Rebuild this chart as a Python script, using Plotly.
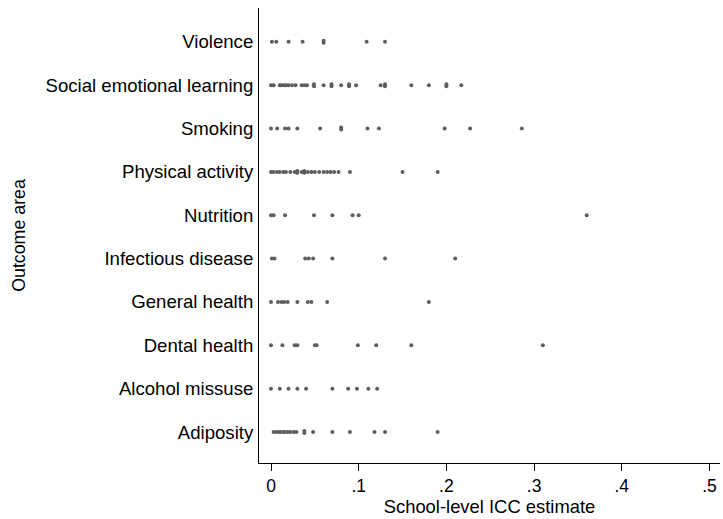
import plotly.graph_objects as go
from collections import Counter

# Outcome areas, listed bottom to top on the y axis
categories = [
    "Adiposity",
    "Alcohol missuse",
    "Dental health",
    "General health",
    "Infectious disease",
    "Nutrition",
    "Physical activity",
    "Smoking",
    "Social emotional learning",
    "Violence",
]

# School-level ICC estimates for each outcome area
adiposity = [0.003, 0.006, 0.009, 0.011, 0.014, 0.016, 0.019, 0.022, 0.026, 0.029,
             0.038, 0.038, 0.048, 0.070, 0.090, 0.118, 0.130, 0.190]
alcohol_missuse = [0.000, 0.010, 0.020, 0.030, 0.040, 0.070, 0.088, 0.098, 0.111, 0.121]
dental_health = [0.000, 0.013, 0.027, 0.030, 0.050, 0.052, 0.099, 0.120, 0.160, 0.310]
general_health = [0.000, 0.008, 0.012, 0.015, 0.019, 0.030, 0.042, 0.046, 0.064, 0.180]
infectious_disease = [0.001, 0.004, 0.039, 0.043, 0.048, 0.070, 0.130, 0.210]
nutrition = [0.000, 0.003, 0.016, 0.049, 0.070, 0.093, 0.100, 0.360]
physical_activity = [0.000, 0.003, 0.007, 0.010, 0.014, 0.017, 0.022, 0.027, 0.030, 0.030,
                     0.035, 0.038, 0.038, 0.042, 0.046, 0.050, 0.055, 0.060, 0.064, 0.068,
                     0.072, 0.077, 0.090, 0.150, 0.190]
smoking = [0.000, 0.007, 0.016, 0.020, 0.030, 0.056, 0.080, 0.080, 0.110, 0.123,
           0.198, 0.227, 0.286]
social_emotional_learning = [0.000, 0.003, 0.010, 0.012, 0.015, 0.017, 0.020, 0.024, 0.028,
                             0.035, 0.038, 0.041, 0.049, 0.049, 0.060, 0.069, 0.069, 0.080,
                             0.089, 0.089, 0.097, 0.125, 0.130, 0.130, 0.160, 0.180, 0.200,
                             0.200, 0.217]
violence = [0.001, 0.006, 0.020, 0.036, 0.060, 0.060, 0.109, 0.130]

series = [adiposity, alcohol_missuse, dental_health, general_health, infectious_disease,
          nutrition, physical_activity, smoking, social_emotional_learning, violence]

x_ticks = [0, 0.1, 0.2, 0.3, 0.4, 0.5]
x_tick_labels = ["0", ".1", ".2", ".3", ".4", ".5"]

# Repeated estimates within a row are stacked slightly apart so each stays visible
STACK_STEP = 0.045
xs, ys = [], []
for row, values in enumerate(series, start=1):
    counts = Counter(values)
    seen = Counter()
    for v in values:
        n = counts[v]
        k = seen[v]
        seen[v] += 1
        xs.append(v)
        ys.append(row + (k - (n - 1) / 2) * STACK_STEP)

fig = go.Figure(
    go.Scatter(
        x=xs,
        y=ys,
        mode="markers",
        marker=dict(size=4, color="#5e5e5e", line=dict(width=0)),
        hoverinfo="x",
        showlegend=False,
    )
)

font_family = "Liberation Sans, Arial, sans-serif"

fig.update_layout(
    width=723,
    height=519,
    margin=dict(l=259, r=3, t=8, b=56),
    paper_bgcolor="white",
    plot_bgcolor="white",
    font=dict(family=font_family, size=18.6, color="#000000"),
    xaxis=dict(
        range=[-0.0137, 0.512],
        tickvals=x_ticks,
        ticktext=x_tick_labels,
        tickfont=dict(size=17.5),
        ticks="outside",
        ticklen=7,
        tickwidth=1,
        tickcolor="#000000",
        showline=True,
        linecolor="#000000",
        linewidth=1,
        showgrid=False,
        zeroline=False,
        title=dict(text="School-level ICC estimate", standoff=0,
                   font=dict(size=18.4)),
    ),
    yaxis=dict(
        range=[0.285, 10.78],
        tickvals=list(range(1, len(categories) + 1)),
        ticktext=categories,
        tickfont=dict(size=18.6),
        ticks="",
        showline=True,
        linecolor="#000000",
        linewidth=1,
        showgrid=False,
        zeroline=False,
        ticklabelstandoff=1,
        title=dict(text="Outcome area", standoff=15, font=dict(size=17.8)),
    ),
)

fig.write_html("out.html")
